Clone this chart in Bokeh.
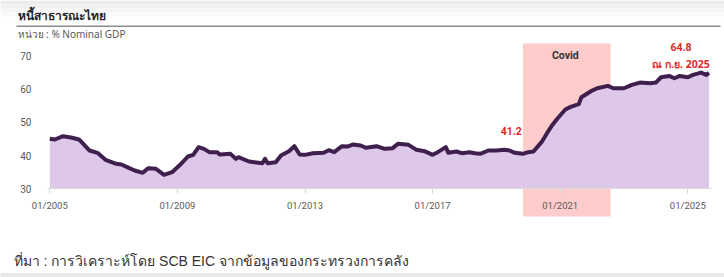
import pandas as pd
from bokeh.plotting import figure
from bokeh.models import (Range1d, FixedTicker, DatetimeTickFormatter, BoxAnnotation,
                          Label, ColumnDataSource)
from bokeh.embed import file_html
from bokeh.resources import INLINE

# ---------------- data ----------------
months = ["2005-01", "2005-03", "2005-06", "2005-09", "2005-12", "2006-01", "2006-04", "2006-07",
          "2006-10", "2007-02", "2007-04", "2007-07", "2007-09", "2007-12", "2008-02", "2008-05",
          "2008-08", "2008-11", "2009-02", "2009-05", "2009-07", "2009-09", "2009-11", "2010-01",
          "2010-04", "2010-05", "2010-09", "2010-11", "2010-12", "2011-04", "2011-06", "2011-09",
          "2011-10", "2011-11", "2012-02", "2012-04", "2012-07", "2012-09", "2012-11", "2013-01",
          "2013-04", "2013-08", "2013-10", "2013-12", "2014-03", "2014-05", "2014-07", "2014-10",
          "2014-12", "2015-04", "2015-07", "2015-10", "2015-12", "2016-04", "2016-07", "2016-10",
          "2017-01", "2017-03", "2017-06", "2017-07", "2017-10", "2017-12", "2018-03", "2018-05",
          "2018-07", "2018-10", "2019-01", "2019-04", "2019-06", "2019-08", "2019-11", "2020-01",
          "2020-03", "2020-06", "2020-08", "2020-10", "2020-12", "2021-03", "2021-05", "2021-08",
          "2021-09", "2022-01", "2022-03", "2022-07", "2022-09", "2023-01", "2023-04", "2023-07",
          "2023-11", "2024-01", "2024-03", "2024-06", "2024-08", "2024-10", "2025-01", "2025-03",
          "2025-06", "2025-08", "2025-09"]
debt_pct_gdp = [45.0, 44.8, 45.8, 45.4, 44.8, 44.0, 41.5, 40.8,
                38.7, 37.5, 37.3, 36.2, 35.5, 34.8, 36.2, 36.0,
                34.2, 35.0, 37.2, 39.7, 40.2, 42.5, 42.0, 41.0,
                41.0, 40.3, 40.5, 39.0, 39.5, 38.2, 38.0, 37.7,
                39.0, 37.7, 38.0, 40.0, 41.3, 42.8, 40.3, 40.2,
                40.7, 40.8, 41.6, 41.0, 42.8, 42.7, 43.3, 43.0,
                42.3, 42.8, 42.0, 42.2, 43.5, 43.2, 41.7, 41.3,
                40.2, 41.0, 42.5, 40.8, 41.2, 40.7, 41.0, 40.7,
                40.5, 41.5, 41.5, 41.7, 41.5, 40.8, 40.5, 41.0,
                41.2, 44.0, 46.6, 49.1, 51.1, 53.8, 54.6, 55.4,
                57.5, 59.5, 60.2, 60.9, 60.2, 60.2, 61.2, 61.9,
                61.7, 61.9, 63.5, 63.9, 63.2, 63.9, 63.5, 64.2,
                64.9, 64.2, 64.8]
tick_months = ["2005-01", "2009-01", "2013-01", "2017-01", "2021-01", "2025-01"]
y_ticks = [30, 40, 50, 60, 70]
covid_period = ["2019-11-01", "2022-08-01"]
title_text = "หนี้สาธารณะไทย"
unit_text = "หน่วย : % Nominal GDP"
source_text = "ที่มา : การวิเคราะห์โดย SCB EIC จากข้อมูลของกระทรวงการคลัง"
covid_label = "Covid"
start_label = "41.2"
end_label = "64.8"
end_date_label = "ณ ก.ย. 2025"

W, H = 724, 277
BASE = 30          # value where the x axis sits


def ms(s):
    return pd.Timestamp(s).value / 1e6


# ---- layout: the frame fills the whole canvas; map pixels to data ----
T0, T1 = ms("2005-01-01"), ms("2025-01-01")
PX0, PX1 = 49.3, 687.3                 # pixel x of the two ticks
sx = (T1 - T0) / (PX1 - PX0)
x_start, x_end = T0 - PX0 * sx, T0 + (W - PX0) * sx
PY_BASE, PX_PER_UNIT = 188.3, 3.33     # pixel y of value 30, pixels per unit
y_end = BASE + PY_BASE / PX_PER_UNIT
y_start = BASE - (H - PY_BASE) / PX_PER_UNIT
plot_left = T0 - (PX0 - 47) * sx
plot_right = T0 + (711 - PX0) * sx
box_top = BASE + (PY_BASE - 43) / PX_PER_UNIT
box_bottom = BASE - (216 - PY_BASE) / PX_PER_UNIT

x = pd.to_datetime(months)
src = ColumnDataSource(dict(x=x, y=debt_pct_gdp))

p = figure(width=W, height=H, output_backend="svg", toolbar_location=None,
           x_axis_type="datetime",
           x_range=Range1d(x_start, x_end), y_range=Range1d(y_start, y_end),
           min_border=0)
p.outline_line_color = None
p.grid.visible = False
p.background_fill_color = "white"
p.border_fill_color = "white"

# covid shaded box (extends below the axis)
p.add_layout(BoxAnnotation(left=ms(covid_period[0]), right=ms(covid_period[1]),
                           top=box_top, bottom=box_bottom,
                           fill_color="#FFCCCC", fill_alpha=1.0, line_alpha=0, level="underlay"))

p.varea(x="x", y1=BASE, y2="y", source=src, fill_color="#DDC8EA", fill_alpha=1.0)
p.line(x="x", y="y", source=src, line_color="#3F1F4E", line_width=4, line_join="round")

# axes
xa = p.xaxis[0]
xa.fixed_location = BASE
xa.bounds = (plot_left, plot_right)
xa.ticker = FixedTicker(ticks=[ms(m) for m in tick_months])
xa.formatter = DatetimeTickFormatter(years="%m/%Y", months="%m/%Y", days="%m/%Y", hours="%m/%Y",
                                     minutes="%m/%Y", seconds="%m/%Y", milliseconds="%m/%Y",
                                     microseconds="%m/%Y", hourmin="%m/%Y", minsec="%m/%Y")
xa.axis_line_color = "#D9D9D9"
xa.major_tick_line_color = "#D9D9D9"
xa.major_tick_out = 5
xa.major_tick_in = 0
xa.minor_tick_line_color = None
xa.major_label_standoff = 6
xa.major_label_text_font = "Roboto"
xa.major_label_text_font_size = "9.5px"
xa.major_label_text_color = "#595959"

ya = p.yaxis[0]
ya.fixed_location = plot_left
ya.ticker = FixedTicker(ticks=y_ticks)
ya.axis_line_color = None
ya.major_tick_line_color = None
ya.minor_tick_line_color = None
ya.major_label_standoff = 10
ya.major_label_text_font = "Roboto"
ya.major_label_text_font_size = "10px"
ya.major_label_text_color = "#595959"

# annotations in the chart
p.add_layout(Label(x=ms("2021-03-01"), y=69.9, text=covid_label, text_align="center",
                   text_baseline="middle", text_font="Roboto", text_font_size="10.5px",
                   text_font_style="bold", text_color="#333333"))
p.add_layout(Label(x=ms("2019-06-20"), y=47.5, text=start_label, text_align="center",
                   text_baseline="middle", text_font="Roboto", text_font_size="10.5px",
                   text_font_style="bold", text_color="#E02A2A"))
p.add_layout(Label(x=ms("2024-10-15"), y=72.7, text=end_label, text_align="center",
                   text_baseline="middle", text_font="Roboto", text_font_size="10.5px",
                   text_font_style="bold", text_color="#E02A2A"))
p.add_layout(Label(x=ms("2024-10-15"), y=67.5, text=end_date_label, text_align="center",
                   text_baseline="middle", text_font="Noto Sans", text_font_size="10.5px",
                   text_font_style="bold", text_color="#E02A2A"))

# page decorations: top shade, header rule, bottom rule
for y0, col in [(0, "#EBEBEB"), (4, "#F0F0F0"), (8, "#F5F5F5"), (12, "#FAFAFA")]:
    p.add_layout(BoxAnnotation(left=0, right=W, top=y0, bottom=y0 + 4,
                               left_units="canvas", right_units="canvas",
                               top_units="canvas", bottom_units="canvas",
                               fill_color=col, fill_alpha=1.0, line_alpha=0, level="underlay"))
p.add_layout(BoxAnnotation(left=16, right=720, top=25, bottom=26.5,
                           left_units="canvas", right_units="canvas",
                           top_units="canvas", bottom_units="canvas",
                           fill_color="#8C8C8C", fill_alpha=1.0, line_alpha=0))
p.add_layout(BoxAnnotation(left=0, right=W, top=273, bottom=H,
                           left_units="canvas", right_units="canvas",
                           top_units="canvas", bottom_units="canvas",
                           fill_color="#E9E9E9", fill_alpha=1.0, line_color="#D0D0D0",
                           line_width=1))

# texts around the chart
p.add_layout(Label(x=17, y=15, x_units="canvas", y_units="canvas", text=title_text,
                   text_baseline="middle", text_font="Noto Sans", text_font_size="12px",
                   text_font_style="bold", text_color="#262626"))
p.add_layout(Label(x=17, y=33, x_units="canvas", y_units="canvas", text=unit_text,
                   text_baseline="middle", text_font="Noto Sans", text_font_size="10px",
                   text_color="#595959"))
p.add_layout(Label(x=13, y=260, x_units="canvas", y_units="canvas", text=source_text,
                   text_baseline="middle", text_font="Liberation Sans", text_font_size="14px",
                   text_color="#333333"))

open("out.html", "w").write(file_html(p, INLINE))
